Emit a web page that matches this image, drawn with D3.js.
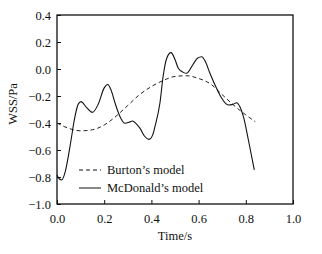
<!DOCTYPE html>
<html>
<head>
<meta charset="utf-8">
<title>WSS</title>
<script src="https://d3js.org/d3.v7.min.js"></script>
<style>
body { margin: 0; background: #fff; }
svg text { font-family: "Liberation Serif", serif; font-size: 12.5px; fill: #111; }
</style>
</head>
<body>
<svg></svg>
<script>
// Burton's model (dashed)
var burtonT = [0, 0.05, 0.1, 0.15, 0.2, 0.25, 0.3, 0.35, 0.4, 0.45, 0.5, 0.55, 0.6, 0.65, 0.7, 0.75, 0.8, 0.84];
var burtonV = [-0.40, -0.44, -0.458, -0.45, -0.415, -0.35, -0.27, -0.19, -0.13, -0.085, -0.055, -0.05, -0.07, -0.11, -0.19, -0.27, -0.34, -0.39];

// McDonald's model (solid)
var mcdT = [0, 0.01, 0.02, 0.035, 0.055, 0.076, 0.09, 0.102, 0.125, 0.15, 0.175, 0.2, 0.215, 0.23, 0.246, 0.267, 0.288, 0.305, 0.32, 0.335, 0.352, 0.372, 0.39, 0.405, 0.415, 0.436, 0.45, 0.465, 0.483, 0.5, 0.514, 0.535, 0.549, 0.575, 0.595, 0.613, 0.63, 0.648, 0.683, 0.698, 0.726, 0.745, 0.761, 0.775, 0.79, 0.811, 0.836];
var mcdV = [-0.785, -0.815, -0.822, -0.76, -0.575, -0.353, -0.26, -0.242, -0.285, -0.321, -0.26, -0.14, -0.115, -0.16, -0.252, -0.353, -0.402, -0.395, -0.385, -0.405, -0.44, -0.5, -0.521, -0.49, -0.427, -0.254, -0.05, 0.08, 0.121, 0.07, 0.005, -0.025, -0.032, 0.03, 0.08, 0.091, 0.05, -0.032, -0.168, -0.217, -0.267, -0.262, -0.25, -0.28, -0.353, -0.526, -0.748];

var xTicks = [0, 0.2, 0.4, 0.6, 0.8, 1.0];
var yTicks = [0.4, 0.2, 0.0, -0.2, -0.4, -0.6, -0.8, -1.0];
var legendNames = ["Burton\u2019s model", "McDonald\u2019s model"];

var width = 322, height = 254;
var margin = {left: 57, right: 29, top: 15, bottom: 50};

var svg = d3.select('svg')
  .attr('width', width)
  .attr('height', height);

var x = d3.scaleLinear().domain([0, 1]).range([margin.left, width - margin.right]);
var y = d3.scaleLinear().domain([-1, 0.4]).range([height - margin.bottom, margin.top]);

var fmt = function(d) { return d3.format('.1f')(d).replace('-', '\u2212'); };

// axes, ticks inward
var xAxis = svg.append('g')
  .attr('transform', 'translate(0,' + y(-1) + ')')
  .call(d3.axisBottom(x).tickValues(xTicks).tickSizeInner(-4).tickSizeOuter(0).tickPadding(10).tickFormat(fmt));
var yAxis = svg.append('g')
  .attr('transform', 'translate(' + x(0) + ',0)')
  .call(d3.axisLeft(y).tickValues(yTicks).tickSizeInner(-4).tickSizeOuter(0).tickPadding(6).tickFormat(fmt));

[xAxis, yAxis].forEach(function(a) {
  a.attr('font-family', null).attr('font-size', null);
  a.select('.domain').remove();
  a.selectAll('line').attr('stroke', '#111').attr('stroke-width', 1);
  a.selectAll('text').attr('fill', '#111');
});

// frame
svg.append('rect')
  .attr('x', x(0)).attr('y', y(0.4))
  .attr('width', x(1) - x(0)).attr('height', y(-1) - y(0.4))
  .attr('fill', 'none').attr('stroke', '#111').attr('stroke-width', 1.3);

var line = d3.line()
  .x(function(d) { return x(d[0]); })
  .y(function(d) { return y(d[1]); })
  .curve(d3.curveMonotoneX);

svg.append('path')
  .attr('d', line(d3.zip(burtonT, burtonV)))
  .attr('fill', 'none').attr('stroke', '#222').attr('stroke-width', 1)
  .attr('stroke-dasharray', '4,3');

svg.append('path')
  .attr('d', line(d3.zip(mcdT, mcdV)))
  .attr('fill', 'none').attr('stroke', '#111').attr('stroke-width', 1.1);

// legend
var legend = svg.append('g');
legendNames.forEach(function(name, i) {
  var ly = 170 + i * 18;
  legend.append('line')
    .attr('x1', 79).attr('x2', 101).attr('y1', ly).attr('y2', ly)
    .attr('stroke', '#111').attr('stroke-width', 1)
    .attr('stroke-dasharray', i === 0 ? '4,3' : null);
  legend.append('text')
    .attr('x', 107).attr('y', ly + 4)
    .text(name);
});

// axis titles
svg.append('text')
  .attr('x', x(0.5)).attr('y', 240)
  .attr('text-anchor', 'middle')
  .text('Time/s');
svg.append('text')
  .attr('transform', 'translate(17,104) rotate(-90)')
  .attr('text-anchor', 'middle')
  .text('WSS/Pa');
</script>
</body>
</html>
